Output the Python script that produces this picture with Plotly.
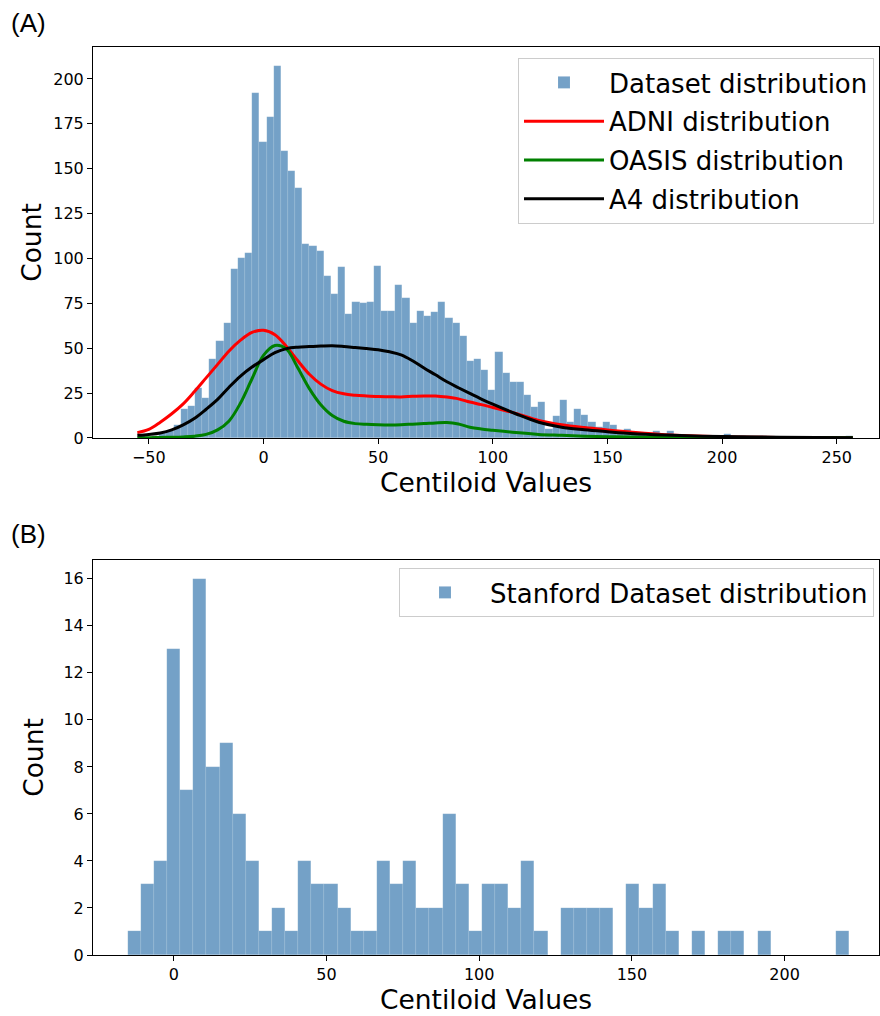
import numpy as np
import plotly.graph_objects as go

# ---------------- Panel A data ----------------
hist_a_start = -54.8
hist_a_end = 257.1
hist_a_counts = [1, 0, 1, 3, 4, 7, 16, 18, 28, 22,
                 44, 54, 64, 94, 100, 103, 192, 165, 179, 207,
                 160, 149, 139, 108, 107, 104, 90, 80, 95, 69,
                 76, 75, 76, 96, 71, 71, 85, 78, 64, 71,
                 68, 70, 76, 67, 64, 57, 43, 44, 38, 27,
                 48, 36, 31, 31, 24, 17, 20, 5, 12, 21,
                 9, 16, 13, 9, 6, 9, 7, 3, 5, 3,
                 2, 2, 4, 2, 4, 1, 1, 1, 1, 0,
                 1, 0, 2, 0, 1, 0, 0, 1, 0, 0,
                 0, 0, 0, 0, 0, 0, 0, 0, 0, 1]

kde_x = [-55, -50, -45, -40, -35, -30, -25, -20, -15, -10,
         -5, 0, 5, 10, 15, 20, 25, 30, 35, 40,
         45, 50, 55, 60, 65, 70, 75, 80, 85, 90,
         95, 100, 110, 120, 130, 140, 150, 160, 175, 200,
         225, 257]
adni_y = [3, 4.8, 8.8, 13.5, 19, 26, 33.5, 41, 48.5, 54.5,
          58.8, 60, 57.5, 51, 43, 35.5, 30, 26.4, 24.6, 23.8,
          23.4, 23.1, 23, 22.9, 23.2, 23.4, 23.4, 22.8, 21.8, 20,
          18.6, 17, 13.7, 9.8, 7.4, 5.8, 4.5, 3.3, 1.8, 0.7,
          0.3, 0.2]
oasis_y = [0.2, 0.2, 0.3, 0.4, 0.6, 1, 2, 4.5, 9.5, 19.5,
           33, 46, 51.5, 49.5, 39, 27.5, 18.5, 12.5, 9.3, 8,
           7.6, 7.4, 7.3, 7.4, 7.7, 8, 8.4, 8.6, 7.8, 6,
           5, 4.3, 3, 2, 1.5, 1, 0.7, 0.5, 0.3, 0.2,
           0.1, 0.1]
a4_y = [1.5, 2, 2.8, 4.5, 7.3, 11, 16, 21.5, 28.3, 34.5,
        39.5, 43.6, 47.5, 49.8, 50.6, 50.9, 51.2, 51.4, 51, 50.4,
        49.8, 49.2, 48, 46.3, 43, 39, 35.2, 31.3, 28, 24.8,
        21.7, 18.8, 13.5, 8.8, 6, 4.6, 3.5, 2.5, 1.6, 0.8,
        0.4, 0.2]

# ---------------- Panel B data ----------------
hist_b_start = -15.1
hist_b_end = 221.2
hist_b_counts = [1, 3, 4, 13, 7, 16, 8, 9, 6, 4,
                 1, 2, 1, 4, 3, 3, 2, 1, 1, 4,
                 3, 4, 2, 2, 6, 3, 1, 3, 3, 2,
                 4, 1, 0, 2, 2, 2, 2, 0, 3, 2,
                 3, 1, 0, 1, 0, 1, 1, 0, 1, 0,
                 0, 0, 0, 0, 1]

x_ticks_a = [-50, 0, 50, 100, 150, 200, 250]
y_ticks_a = [0, 25, 50, 75, 100, 125, 150, 175, 200]
x_ticks_b = [0, 50, 100, 150, 200]
y_ticks_b = [0, 2, 4, 6, 8, 10, 12, 14, 16]


def bins(start, end, counts):
    n = len(counts)
    edges = np.linspace(start, end, n + 1)
    centers = (edges[:-1] + edges[1:]) / 2
    width = (end - start) / n
    return centers, width


ca, wa = bins(hist_a_start, hist_a_end, hist_a_counts)
cb, wb = bins(hist_b_start, hist_b_end, hist_b_counts)

bar_color = "rgba(70,130,180,0.75)"
FONT = "DejaVu Sans"
LBL = 26.5
LEG = 26

fig = go.Figure()
fig.add_trace(go.Bar(x=ca, y=hist_a_counts, width=wa, marker_color=bar_color,
                     marker_line=dict(color="rgba(255,255,255,0.25)", width=0.4),
                     name="Dataset distribution", xaxis="x", yaxis="y", legend="legend",
                     legendgroup="g1"))
fig.add_trace(go.Scatter(x=kde_x, y=adni_y, mode="lines", line=dict(color="red", width=3, shape="spline"),
                         name="ADNI distribution", xaxis="x", yaxis="y", legend="legend", legendgroup="g2"))
fig.add_trace(go.Scatter(x=kde_x, y=oasis_y, mode="lines", line=dict(color="green", width=3, shape="spline"),
                         name="OASIS distribution", xaxis="x", yaxis="y", legend="legend", legendgroup="g3"))
fig.add_trace(go.Scatter(x=kde_x, y=a4_y, mode="lines", line=dict(color="black", width=3, shape="spline"),
                         name="A4 distribution", xaxis="x", yaxis="y", legend="legend", legendgroup="g4"))
fig.add_trace(go.Bar(x=cb, y=hist_b_counts, width=wb, marker_color=bar_color,
                     marker_line=dict(color="rgba(255,255,255,0.25)", width=0.4),
                     name="Stanford Dataset distribution", xaxis="x2", yaxis="y2", legend="legend2"))

axis_common = dict(showline=True, mirror=True, linecolor="black", linewidth=1,
                   ticks="outside", ticklen=5, tickcolor="black", tickwidth=1,
                   showgrid=False, zeroline=False,
                   tickfont=dict(family=FONT, size=16, color="black"))

plot_w = 880 - 93 - 1
plot_h = 1016 - 47 - 61

fig.update_layout(
    width=880, height=1016,
    margin=dict(l=93, r=1, t=47, b=61, autoexpand=False),
    paper_bgcolor="white", plot_bgcolor="white",
    bargap=0,
    xaxis=dict(domain=[0, 1], anchor="y", range=[-74.34, 268.42], tickvals=x_ticks_a,
               title=dict(text="Centiloid Values", font=dict(family=FONT, size=LBL, color="black"), standoff=4),
               **axis_common),
    yaxis=dict(domain=[0.5694, 1], anchor="x", range=[0, 217.8], tickvals=y_ticks_a,
               title=dict(text="Count", font=dict(family=FONT, size=LBL, color="black"), standoff=3),
               **axis_common),
    xaxis2=dict(domain=[0, 1], anchor="y2", range=[-26.45, 230.9], tickvals=x_ticks_b,
                title=dict(text="Centiloid Values", font=dict(family=FONT, size=LBL, color="black"), standoff=4),
                **axis_common),
    yaxis2=dict(domain=[0, 0.435], anchor="x2", range=[0, 16.8], tickvals=y_ticks_b,
                title=dict(text="Count", font=dict(family=FONT, size=LBL, color="black"), standoff=12),
                **axis_common),
    legend=dict(x=(874 - 93) / plot_w, y=(955 - 58) / plot_h, xanchor="right", yanchor="top",
                bgcolor="rgba(255,255,255,0.8)", bordercolor="#cccccc", borderwidth=1,
                font=dict(family=FONT, size=LEG, color="black"), itemwidth=80,
                traceorder="grouped", tracegroupgap=2),
    legend2=dict(x=(874 - 93) / plot_w, y=(955 - 568) / plot_h, xanchor="right", yanchor="top",
                 bgcolor="rgba(255,255,255,0.8)", bordercolor="#cccccc", borderwidth=1,
                 font=dict(family=FONT, size=LEG, color="black"), itemwidth=80),
)

ann = []
for txt, px, py in [("(A)", 9, 6), ("(B)", 9, 517)]:
    ann.append(dict(text=txt, x=(px - 93) / plot_w, y=(1016 - 61 - py) / plot_h,
                    xref="paper", yref="paper", xanchor="left", yanchor="top",
                    showarrow=False, font=dict(family="Liberation Sans", size=26, color="black")))
fig.update_layout(annotations=ann)

fig.write_html("out.html", config={"displayModeBar": False},
               post_script="document.body.style.margin='0px';document.body.style.overflow='hidden';")
